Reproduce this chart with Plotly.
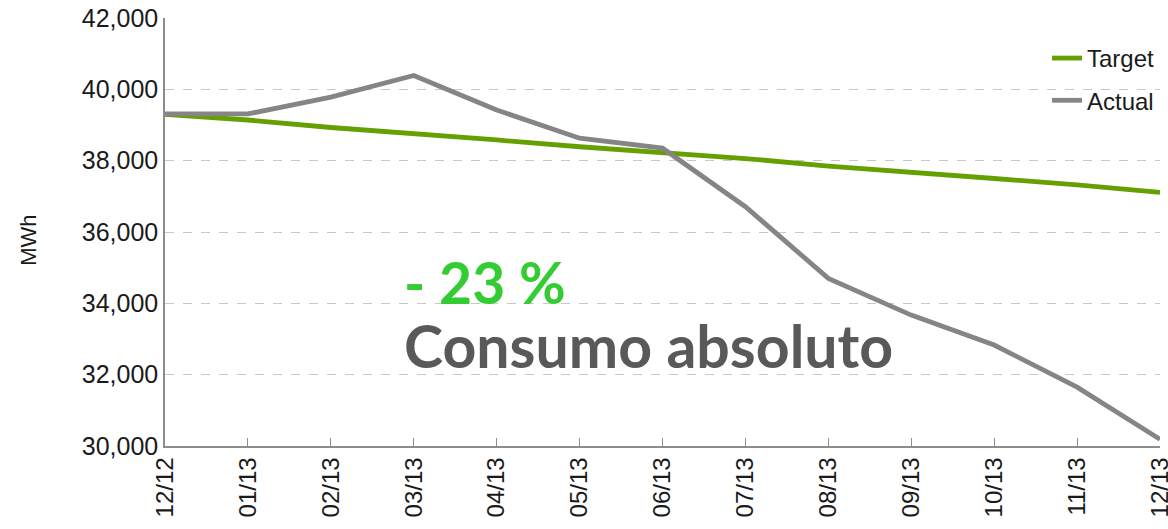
import plotly.graph_objects as go

months = ["12/12", "01/13", "02/13", "03/13", "04/13", "05/13", "06/13",
          "07/13", "08/13", "09/13", "10/13", "11/13", "12/13"]
target = [39300, 39140, 38930, 38770, 38580, 38390, 38220,
          38060, 37850, 37690, 37500, 37320, 37110]
actual = [39310, 39310, 39780, 40390, 39420, 38630, 38350,
          36710, 34700, 33670, 32830, 31650, 30190]
y_ticks = [30000, 32000, 34000, 36000, 38000, 40000, 42000]

fig = go.Figure()
fig.add_trace(go.Scatter(x=months, y=target, name="Target", mode="lines",
                         line=dict(color="#66A000", width=4.8), legendgroup="t"))
fig.add_trace(go.Scatter(x=months, y=actual, name="Actual", mode="lines",
                         line=dict(color="#858585", width=4.8), legendgroup="a"))

fig.update_layout(
    width=1168, height=529,
    margin=dict(l=165, r=8, t=18, b=83),
    plot_bgcolor="white", paper_bgcolor="white",
    font=dict(family="Liberation Sans, Arial, sans-serif", color="#1a1a1a", size=24),
    showlegend=True,
    legend=dict(x=1.0, y=0.958, xanchor="right", yanchor="top",
                bgcolor="rgba(0,0,0,0)", font=dict(size=24, color="#1a1a1a"),
                tracegroupgap=8, traceorder="grouped"),
    xaxis=dict(type="category", range=[0, 12], tickangle=-90, automargin=False,
               showline=True, linecolor="#8c8c8c", linewidth=1.5,
               ticks="inside", ticklen=8, tickcolor="#8c8c8c",
               ticklabeloverflow="allow",
               showgrid=False, tickfont=dict(size=24)),
    yaxis=dict(range=[30000, 42000], tickvals=y_ticks, tickformat=",",
               automargin=False, ticklabeloverflow="allow",
               showline=True, linecolor="#8c8c8c", linewidth=1.5,
               showgrid=True, gridcolor="#c8c8c8", griddash="dash", gridwidth=1,
               zeroline=False, ticks="", tickfont=dict(size=25)),
)

fig.add_annotation(xref="paper", yref="paper", x=-0.138, y=0.481,
                   xanchor="center", yanchor="middle", showarrow=False,
                   textangle=-90, text="MWh",
                   font=dict(family="Liberation Sans, Arial, sans-serif", size=22,
                             color="#1a1a1a"))
fig.add_annotation(xref="paper", yref="paper", x=0.238, y=0.383,
                   xanchor="left", yanchor="middle", showarrow=False, height=46,
                   text="<b>- 23 %</b>",
                   font=dict(family="Lato, Open Sans, sans-serif", size=57, color="#33CC33"))
fig.add_annotation(xref="paper", yref="paper", x=0.238, y=0.236,
                   xanchor="left", yanchor="middle", showarrow=False, height=46,
                   text="<b>Consumo absoluto</b>",
                   font=dict(family="Lato, Open Sans, sans-serif", size=59, color="#595959"))

fig.write_html("out.html", config={"displayModeBar": False},
               post_script="document.body.style.margin='0';document.body.style.overflow='hidden';")
